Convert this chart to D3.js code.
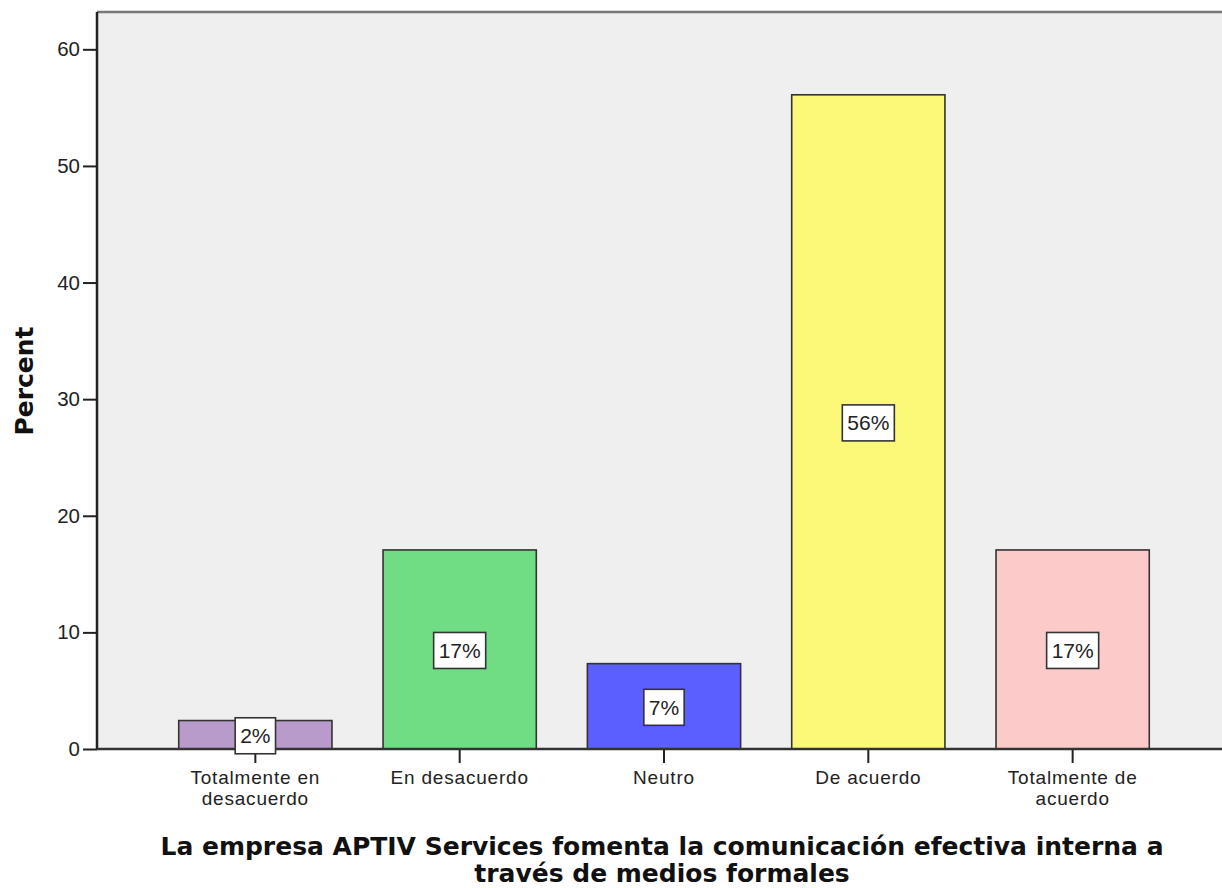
<!DOCTYPE html>
<html>
<head>
<meta charset="utf-8">
<script src="https://cdn.jsdelivr.net/npm/d3@7"></script>
<style>
  html, body { margin: 0; padding: 0; background: #fff; }
  svg { display: block; }
  .tick text { font-family: "Liberation Sans", Arial, sans-serif; }
</style>
</head>
<body>
<svg id="chart" width="1222" height="888"></svg>
<script>
// SPSS bar chart: percent per response category

const categories = [
    ["Totalmente en", "desacuerdo"],
    ["En desacuerdo"],
    ["Neutro"],
    ["De acuerdo"],
    ["Totalmente de", "acuerdo"],
];
const percents = [2.44, 17.07, 7.32, 56.10, 17.07];
const barLabels = ["2%", "17%", "7%", "56%", "17%"];
const barColors = ["#b99bcb", "#70dc84", "#5b5fff", "#fbf977", "#fdcaca"];
const yTicks = [0, 10, 20, 30, 40, 50, 60];

const xTitle = [
    "La empresa APTIV Services fomenta la comunicación efectiva interna a",
    "través de medios formales",
];
const yTitle = "Percent";

const svg = d3.select("#chart");
const plot = { left: 97, top: 12, right: 1231, bottom: 749 };
const sans = "Liberation Sans, Arial, sans-serif";
const titleFont = "DejaVu Sans, sans-serif";

const idx = categories.map((d, i) => i);
const x = d3.scaleBand()
    .domain(idx)
    .range([plot.left, plot.right])
    .paddingInner(0.25)
    .paddingOuter(0.4);

const y = d3.scaleLinear()
    .domain([0, 63.2])
    .range([plot.bottom, plot.top]);

// ---- background + frame ----
svg.append("rect")
    .attr("x", plot.left).attr("y", plot.top)
    .attr("width", plot.right - plot.left).attr("height", plot.bottom - plot.top)
    .attr("fill", "#efefef");

svg.append("line")
    .attr("x1", plot.left).attr("x2", 1222)
    .attr("y1", plot.top).attr("y2", plot.top)
    .attr("stroke", "#777").attr("stroke-width", 2.5);

// ---- bars ----
svg.selectAll(".bar")
    .data(percents).enter().append("rect")
    .attr("class", "bar")
    .attr("x", (d, i) => x(i))
    .attr("y", d => y(d))
    .attr("width", x.bandwidth())
    .attr("height", d => y(0) - y(d))
    .attr("fill", (d, i) => barColors[i])
    .attr("stroke", "#333")
    .attr("stroke-width", 1.6);

// ---- axes ----
const yAxis = svg.append("g")
    .attr("transform", `translate(${plot.left},0)`)
    .call(d3.axisLeft(y).tickValues(yTicks).tickSize(14).tickPadding(3));
yAxis.select(".domain").remove();
yAxis.selectAll(".tick line").attr("stroke", "#222").attr("stroke-width", 2);
yAxis.selectAll(".tick text").attr("font-size", 20.5).attr("fill", "#222");

svg.append("line")
    .attr("x1", plot.left).attr("x2", plot.left)
    .attr("y1", plot.top).attr("y2", plot.bottom + 1)
    .attr("stroke", "#222").attr("stroke-width", 2.5);

const xAxis = svg.append("g")
    .attr("transform", `translate(0,${plot.bottom})`)
    .call(d3.axisBottom(x).tickSize(14).tickFormat(""));
xAxis.select(".domain").remove();
xAxis.selectAll(".tick line").attr("stroke", "#222").attr("stroke-width", 2);

svg.append("line")
    .attr("x1", plot.left).attr("x2", 1222)
    .attr("y1", plot.bottom).attr("y2", plot.bottom)
    .attr("stroke", "#333").attr("stroke-width", 2.5);

// category labels
const catText = svg.append("g").selectAll("text")
    .data(categories).enter().append("text")
    .attr("text-anchor", "middle")
    .attr("font-family", sans)
    .attr("font-size", 19)
    .attr("letter-spacing", 0.8)
    .attr("fill", "#222");
catText.each(function (lines, i) {
    const t = d3.select(this);
    lines.forEach((line, j) => {
        t.append("tspan")
            .attr("x", x(i) + x.bandwidth() / 2)
            .attr("y", 784 + j * 21)
            .text(line);
    });
});

// ---- value labels ----
const lab = svg.append("g").selectAll("g")
    .data(percents).enter().append("g")
    .attr("transform", (d, i) =>
        `translate(${x(i) + x.bandwidth() / 2},${(y(d) + y(0)) / 2 + 1})`);

lab.append("text")
    .attr("text-anchor", "middle")
    .attr("dy", "0.36em")
    .attr("font-family", sans)
    .attr("font-size", 21)
    .attr("fill", "#222")
    .text((d, i) => barLabels[i]);

lab.each(function () {
    const g = d3.select(this);
    const bb = g.select("text").node().getBBox();
    g.insert("rect", "text")
        .attr("x", bb.x - 5).attr("y", -18)
        .attr("width", bb.width + 10).attr("height", 36)
        .attr("fill", "#fff")
        .attr("stroke", "#333")
        .attr("stroke-width", 1.6);
});

// ---- titles ----
svg.append("text")
    .attr("transform", "translate(33,381) rotate(-90)")
    .attr("text-anchor", "middle")
    .attr("font-family", titleFont)
    .attr("font-weight", "bold")
    .attr("font-size", 25)
    .attr("fill", "#111")
    .text(yTitle);

svg.append("g").selectAll("text")
    .data(xTitle).enter().append("text")
    .attr("x", 662)
    .attr("y", (d, i) => 855 + i * 27)
    .attr("text-anchor", "middle")
    .attr("font-family", titleFont)
    .attr("font-weight", "bold")
    .attr("font-size", 25)
    .attr("fill", "#111")
    .text(d => d);
</script>
</body>
</html>
